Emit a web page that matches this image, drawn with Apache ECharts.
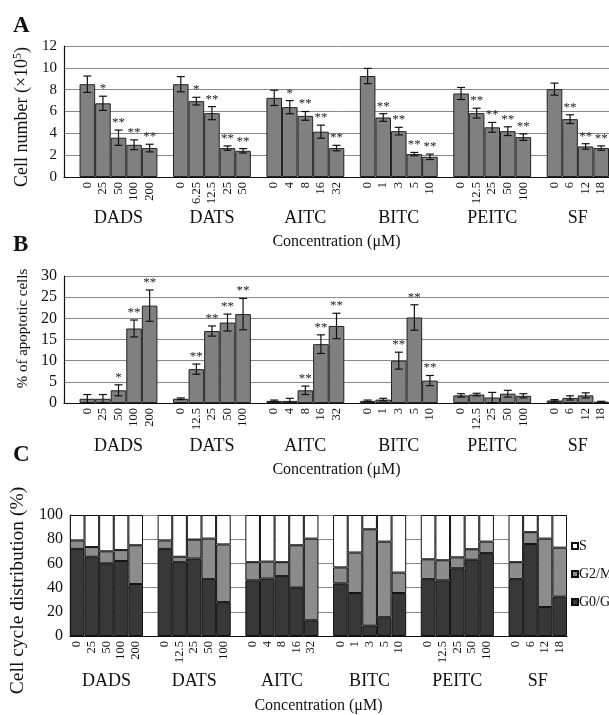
<!DOCTYPE html>
<html>
<head>
<meta charset="utf-8">
<script src="https://cdn.jsdelivr.net/npm/echarts@6/dist/echarts.min.js"></script>
<style>
  html, body { margin: 0; padding: 0; background: #fff; }
  #chart { width: 609px; height: 715px; }
</style>
</head>
<body>
<div id="chart"></div>
<script>
// groups and concentrations
var groups = ['DADS', 'DATS', 'AITC', 'BITC', 'PEITC', 'SF']
var concA = [['0', '25', '50', '100', '200'], ['0', '6.25', '12.5', '25', '50'], ['0', '4', '8', '16', '32'],
  ['0', '1', '3', '5', '10'], ['0', '12.5', '25', '50', '100'], ['0', '6', '12', '18']]
var concBC = [['0', '25', '50', '100', '200'], ['0', '12.5', '25', '50', '100'], ['0', '4', '8', '16', '32'],
  ['0', '1', '3', '5', '10'], ['0', '12.5', '25', '50', '100'], ['0', '6', '12', '18']]

// panel A: cell number (x10^5)
var cellMean = [8.5, 6.75, 3.6, 2.95, 2.65, 8.5, 6.95, 5.85, 2.65, 2.4, 7.25, 6.4, 5.6, 4.15, 2.65,
  9.25, 5.45, 4.2, 2.1, 1.85, 7.65, 5.85, 4.55, 4.2, 3.65, 8.05, 5.3, 2.8, 2.65]
var cellErr = [0.75, 0.65, 0.7, 0.45, 0.35, 0.7, 0.35, 0.6, 0.2, 0.2, 0.7, 0.6, 0.4, 0.6, 0.25,
  0.7, 0.35, 0.35, 0.15, 0.25, 0.55, 0.45, 0.45, 0.4, 0.3, 0.55, 0.4, 0.25, 0.2]
var cellSig = ['', '*', '**', '**', '**', '', '*', '**', '**', '**', '', '*', '**', '**', '**',
  '', '**', '**', '**', '**', '', '**', '**', '**', '**', '', '**', '**', '**']

// panel B: % apoptotic cells
var apoMean = [1, 1, 3, 17.6, 23, 1, 8, 17, 19, 21, 0.5, 0.5, 3, 13.9, 18.2,
  0.5, 0.8, 10, 20.2, 5.3, 1.8, 2, 1.3, 2.2, 1.7, 0.6, 1.2, 1.8, 0.3]
var apoErr = [1, 1, 1.3, 2, 3.7, 0.2, 1.2, 1.2, 2, 3.7, 0.2, 0.6, 1, 2.2, 3,
  0.2, 0.3, 2, 3, 1.2, 0.4, 0.3, 1.2, 0.8, 0.5, 0.2, 0.5, 0.6, 0.1]
var apoSig = ['', '', '*', '**', '**', '', '**', '**', '**', '**', '', '', '**', '**', '**',
  '', '', '**', '**', '**', '', '', '', '', '', '', '', '', '']

// panel C: cell cycle distribution (%)
var g0g1 = [72, 65.5, 60, 62, 43, 72, 61, 64, 47, 28, 46, 47.5, 49.5, 40, 13,
  43.5, 35.5, 8.5, 15.5, 35.5, 47, 46, 56, 63, 68.5, 47, 76, 24, 32.5]
var g2m = [7, 8, 10, 9, 32, 7, 4.5, 15.7, 33.5, 47.7, 15, 14, 11.5, 35, 67.5,
  13.2, 33.5, 79.7, 62.5, 16.9, 16.4, 16.6, 9, 8.7, 9.5, 14, 9.8, 56.5, 40.5]
var sPhase = [21, 26.5, 30, 29, 25, 21, 34.5, 20.3, 19.5, 24.3, 39, 38.5, 39, 25, 19.5,
  43.3, 31, 11.8, 22, 47.6, 36.6, 37.4, 35, 28.3, 22, 39, 14.2, 19.5, 27]

var font = 'Liberation Serif, DejaVu Serif, serif'

// put the groups into slots with an empty slot between groups
function buildSlots(conc, lead) {
  var cats = []
  var pos = []
  var centers = []
  conc.forEach(function(list, gi) {
    if (gi > 0 || lead) cats.push('')
    var start = cats.length
    list.forEach(function(c) {
      pos.push(cats.length)
      cats.push(c)
    })
    centers.push(start + list.length / 2)
  })
  return { cats: cats, pos: pos, centers: centers }
}

function slotData(slots, values) {
  var out = slots.cats.map(function() { return null })
  values.forEach(function(v, i) { out[slots.pos[i]] = v })
  return out
}

function errData(slots, mean, err) {
  return mean.map(function(m, i) {
    return [slots.pos[i], m - err[i], m + err[i]]
  })
}

var slotsA = buildSlots(concA, true)
var slotsB = buildSlots(concBC, true)
var slotsC = buildSlots(concBC, false)

function errSeries(xi, yi, data, sig) {
  return {
    type: 'custom',
    xAxisIndex: xi,
    yAxisIndex: yi,
    z: 5,
    encode: { x: 0, y: [1, 2] },
    data: data,
    renderItem: function(params, api) {
      var x = api.value(0)
      var lo = api.coord([x, api.value(1)])
      var hi = api.coord([x, api.value(2)])
      var st = { stroke: '#111', lineWidth: 1.2 }
      var children = [
        { type: 'line', shape: { x1: lo[0], y1: lo[1], x2: hi[0], y2: hi[1] }, style: st },
        { type: 'line', shape: { x1: lo[0] - 4, y1: lo[1], x2: lo[0] + 4, y2: lo[1] }, style: st },
        { type: 'line', shape: { x1: hi[0] - 4, y1: hi[1], x2: hi[0] + 4, y2: hi[1] }, style: st }
      ]
      var s = sig[params.dataIndex]
      if (s) {
        children.push({
          type: 'text',
          style: {
            text: s, x: hi[0], y: hi[1] - 1, align: 'center', verticalAlign: 'bottom',
            font: '13px ' + font, fill: '#222'
          }
        })
      }
      return { type: 'group', children: children }
    }
  }
}

function catAxis(gi, slots) {
  return {
    type: 'category',
    gridIndex: gi,
    data: slots.cats,
    axisLine: { lineStyle: { color: '#111', width: 1.2 } },
    axisTick: { show: false },
    axisLabel: { interval: 0, rotate: 90, fontSize: 12.5, fontFamily: font, color: '#111', margin: 5 },
    splitLine: { show: false }
  }
}

function groupAxis(gi, slots, margin, nameGap) {
  return {
    type: 'value',
    gridIndex: gi,
    position: 'bottom',
    offset: 32,
    min: 0,
    max: slots.cats.length,
    axisLine: { show: false },
    axisTick: { show: false },
    splitLine: { show: false },
    axisLabel: {
      customValues: slots.centers,
      margin: margin,
      fontSize: 18,
      fontFamily: font,
      color: '#111',
      formatter: function(v) {
        var i = slots.centers.indexOf(v)
        return i >= 0 ? groups[i] : ''
      }
    },
    name: 'Concentration (μM)',
    nameLocation: 'middle',
    nameGap: nameGap,
    nameTextStyle: { fontSize: 16, fontFamily: font, color: '#111' }
  }
}

function valAxis(gi, max, step, tickSize, name, nameSize, nameGap, pad, rich) {
  var ax = {
    type: 'value',
    gridIndex: gi,
    min: 0,
    max: max,
    interval: step,
    axisLine: { show: true, lineStyle: { color: '#111', width: 1.2 } },
    axisTick: { show: false },
    axisLabel: { fontSize: tickSize, fontFamily: font, color: '#111', margin: 7 },
    splitLine: { lineStyle: { color: '#888', width: 1 } },
    name: name,
    nameLocation: 'middle',
    nameGap: nameGap,
    nameTextStyle: { fontSize: nameSize, fontFamily: font, color: '#111', padding: pad }
  }
  if (rich) ax.nameTextStyle.rich = rich
  return ax
}

var barStyle = { color: '#808080', borderColor: '#222', borderWidth: 1 }

var chart = echarts.init(document.getElementById('chart'))
chart.setOption({
  backgroundColor: '#fff',
  animation: false,
  textStyle: { fontFamily: font },
  graphic: [
    { type: 'text', left: 13, top: 15, style: { text: 'A', font: 'bold 23px ' + font, fill: '#111' } },
    { type: 'text', left: 13, top: 234, style: { text: 'B', font: 'bold 23px ' + font, fill: '#111' } },
    { type: 'text', left: 13, top: 444, style: { text: 'C', font: 'bold 23px ' + font, fill: '#111' } }
  ],
  legend: {
    orient: 'vertical',
    left: 566,
    top: 534,
    itemGap: 14,
    itemWidth: 6,
    itemHeight: 6,
    icon: 'rect',
    data: ['S', 'G2/M', 'G0/G1'],
    textStyle: { fontSize: 14, fontFamily: font, color: '#111', padding: [0, 0, 0, -4] }
  },
  grid: [
    { left: 64, top: 46, width: 545, height: 131 },
    { left: 64, top: 276, width: 545, height: 127 },
    { left: 64, top: 515, width: 503, height: 124 }
  ],
  xAxis: [
    catAxis(0, slotsA), groupAxis(0, slotsA, 0, 25),
    catAxis(1, slotsB), groupAxis(1, slotsB, 2, 27),
    catAxis(2, slotsC), groupAxis(2, slotsC, 4, 30)
  ],
  yAxis: [
    valAxis(0, 12, 2, 15, '{a|Cell number (×10}{b|5}{a|)}', 18, 31, [0, 11, 0, 0],
      { a: { fontSize: 18, fontFamily: font, color: '#111' }, b: { fontSize: 12, fontFamily: font, color: '#111', padding: [0, 0, 9, 0] } }),
    valAxis(1, 30, 5, 16, '% of apoptotic cells', 15, 33, [0, 0, 0, 22]),
    valAxis(2, 100, 20, 16, 'Cell cycle distribution (%)', 19.5, 31, [0, 30, 0, 0])
  ],
  series: [
    { type: 'bar', xAxisIndex: 0, yAxisIndex: 0, barCategoryGap: '0%', itemStyle: barStyle,
      data: slotData(slotsA, cellMean) },
    errSeries(0, 0, errData(slotsA, cellMean, cellErr), cellSig),
    { type: 'bar', xAxisIndex: 2, yAxisIndex: 1, barCategoryGap: '0%', itemStyle: barStyle,
      data: slotData(slotsB, apoMean) },
    errSeries(2, 1, errData(slotsB, apoMean, apoErr), apoSig),
    { name: 'G0/G1', type: 'bar', stack: 'cc', xAxisIndex: 4, yAxisIndex: 2, barCategoryGap: '0%',
      itemStyle: { color: '#383838', borderColor: '#111', borderWidth: 1 }, data: slotData(slotsC, g0g1) },
    { name: 'G2/M', type: 'bar', stack: 'cc', xAxisIndex: 4, yAxisIndex: 2, barCategoryGap: '0%',
      itemStyle: { color: '#8c8c8c', borderColor: '#111', borderWidth: 1 }, data: slotData(slotsC, g2m) },
    { name: 'S', type: 'bar', stack: 'cc', xAxisIndex: 4, yAxisIndex: 2, barCategoryGap: '0%',
      itemStyle: { color: '#ffffff', borderColor: '#111', borderWidth: 1 }, data: slotData(slotsC, sPhase) }
  ]
})
</script>
</body>
</html>
